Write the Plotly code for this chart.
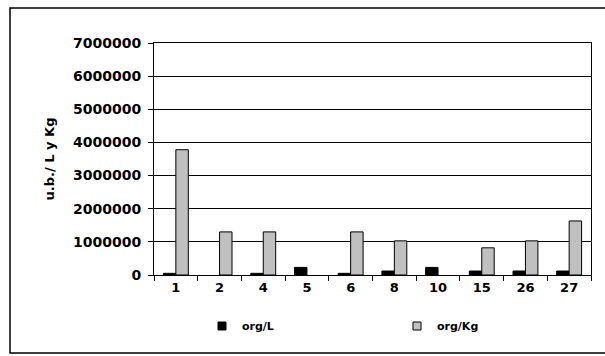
import plotly.graph_objects as go

# Sample sites and counts per litre / per kilogram (None = no bar)
categories = ["1", "2", "4", "5", "6", "8", "10", "15", "26", "27"]
org_L = [50000, None, 50000, 230000, 50000, 120000, 230000, 120000, 120000, 120000]
org_Kg = [3780000, 1300000, 1300000, None, 1300000, 1030000, None, 820000, 1030000, 1630000]
y_ticks = [0, 1000000, 2000000, 3000000, 4000000, 5000000, 6000000, 7000000]

FONT = "DejaVu Sans"

fig = go.Figure()
fig.add_trace(go.Bar(x=categories, y=org_L, name="org/L",
                     marker=dict(color="black", line=dict(color="black", width=1)),
                     showlegend=False))
fig.add_trace(go.Bar(x=categories, y=org_Kg, name="org/Kg",
                     marker=dict(color="#C0C0C0", line=dict(color="black", width=1)),
                     showlegend=False))

# Small square legend keys
fig.add_trace(go.Scatter(x=[None], y=[None], mode="markers", name="org/L",
                         marker=dict(symbol="square", size=8, color="black",
                                     line=dict(color="black", width=1))))
fig.add_trace(go.Scatter(x=[None], y=[None], mode="markers", name="org/Kg",
                         marker=dict(symbol="square", size=8, color="#C0C0C0",
                                     line=dict(color="black", width=1))))

fig.update_layout(
    width=605, height=356,
    margin=dict(l=154, r=14, t=43, b=81),
    paper_bgcolor="white", plot_bgcolor="white",
    barmode="group", bargap=0.43, bargroupgap=0,
    font=dict(family=FONT, size=12, color="black", weight="bold"),
    legend=dict(orientation="h", x=(202 - 154) / 437, xanchor="left",
                y=(275 - 326) / 232, yanchor="middle",
                entrywidth=150, entrywidthmode="pixels",
                font=dict(family=FONT, size=11, weight="bold"),
                bgcolor="rgba(0,0,0,0)"),
    xaxis=dict(type="category", tickson="boundaries", ticks="outside", ticklen=5,
               tickcolor="black", showline=True, linecolor="black", linewidth=1,
               mirror=True, showgrid=False,
               tickfont=dict(family=FONT, size=13, weight="bold")),
    yaxis=dict(range=[0, 7000000], tickvals=y_ticks, ticktext=[str(v) for v in y_ticks],
               ticks="outside", ticklen=5, tickcolor="black", ticklabelstandoff=4,
               showline=True, linecolor="black", linewidth=1, mirror=True,
               showgrid=True, gridcolor="black", gridwidth=1, zeroline=False,
               tickfont=dict(family=FONT, size=14, weight="bold"),
               title=dict(text="u.b./ L y Kg", standoff=15,
                          font=dict(family=FONT, size=13, weight="bold"))),
)

# Outer frame around the whole chart
fig.add_shape(type="rect", xref="paper", yref="paper",
              x0=(10 - 154) / 437, x1=(640 - 154) / 437,
              y0=(275 - 353) / 232, y1=(275 - 8) / 232,
              line=dict(color="black", width=1.5), layer="below")

fig.write_html("out.html")
